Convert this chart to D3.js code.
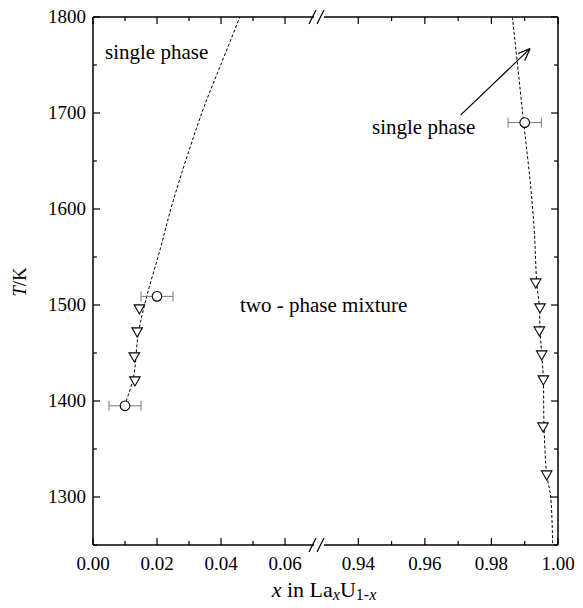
<!DOCTYPE html>
<html><head><meta charset="utf-8">
<script src="https://cdn.jsdelivr.net/npm/d3@7"></script>
<style>body{margin:0;background:#fff;}</style>
</head><body>
<svg id="c" width="583" height="608"></svg>
<script>
// ---- data ----
const leftMajorTicks = [0.00, 0.02, 0.04, 0.06];
const leftMinorTicks = [0.01, 0.03, 0.05];
const rightMajorTicks = [0.94, 0.96, 0.98, 1.00];
const rightMinorTicks = [0.95, 0.97, 0.99];
const yMajorTicks = [1300, 1400, 1500, 1600, 1700, 1800];
const yMinorTicks = [1250, 1350, 1450, 1550, 1650, 1750];

const circleX = [0.010, 0.020, 0.990];
const circleT = [1395, 1509, 1690];
const circleXerr = [0.005, 0.005, 0.005];

const triLeftX = [0.0145, 0.0138, 0.0129, 0.0131];
const triLeftT = [1497, 1473, 1447, 1422];
const triRightX = [0.9933, 0.9946, 0.9944, 0.9951, 0.9956, 0.9955, 0.9966];
const triRightT = [1524, 1498, 1474, 1449, 1423, 1374, 1324];

const leftLineX = [0.0098, 0.0126, 0.0142, 0.0168, 0.0209, 0.0251, 0.0340, 0.0399, 0.0459];
const leftLineT = [1395, 1424, 1471, 1509, 1557, 1609, 1700, 1750, 1800];
const rightLineX = [0.9863, 0.9897, 0.9918, 0.9929, 0.9936, 0.9944, 0.9946, 0.9951, 0.9956, 0.9958, 0.9966, 0.9978, 0.9984];
const rightLineT = [1800, 1690, 1623, 1576, 1524, 1498, 1474, 1449, 1423, 1374, 1324, 1300, 1250];

const arrowFrom = [0.9708, 1698];
const arrowTo = [0.9916, 1767];

// ---- scales ----
const FONT = "Liberation Serif";
const svg = d3.select("#c");
const L = 93, R = 558, T0 = 17, B = 545;
const xL = d3.scaleLinear().domain([0, 0.07]).range([L, 317]);
const xR = d3.scaleLinear().domain([0.93, 1.00]).range([325, R]);
const y = d3.scaleLinear().domain([1250, 1800]).range([B, T0]);
const xs = v => v < 0.5 ? xL(v) : xR(v);

const g = svg.append("g");
const line = (x1,y1,x2,y2,sw=1.3,col="#000") => g.append("line").attr("x1",x1).attr("y1",y1).attr("x2",x2).attr("y2",y2).attr("stroke",col).attr("stroke-width",sw);
const txt = (x,yy,size) => g.append("text").attr("x",x).attr("y",yy).attr("font-size",size).attr("font-family",FONT).attr("fill","#000");

// frame
line(L, T0, L, B, 1.5);
line(R, T0, R, B, 1.5);
line(L, B, 314, B, 1.5); line(324, B, R, B, 1.5);
line(L, T0, 314, T0, 1.5); line(324, T0, R, T0, 1.5);
// break marks
[B, T0].forEach(yy => {
  line(309, yy+7, 316, yy-7, 1.3);
  line(317, yy+7, 324, yy-7, 1.3);
});

const MAJ = 7, MIN = 4;
[[xL, leftMajorTicks, MAJ],[xL, leftMinorTicks, MIN],[xR, rightMajorTicks, MAJ],[xR, rightMinorTicks, MIN]].forEach(([sc, ticks, len]) => {
  ticks.forEach(t => {
    line(sc(t), B, sc(t), B-len, 1.2);
    line(sc(t), T0, sc(t), T0+len, 1.2);
  });
});
[[yMajorTicks, MAJ],[yMinorTicks, MIN]].forEach(([ticks, len]) => {
  ticks.forEach(t => {
    line(L, y(t), L+len, y(t), 1.2);
    line(R, y(t), R-len, y(t), 1.2);
  });
});

// tick labels
leftMajorTicks.forEach(t => txt(xL(t), B+25, 19).attr("text-anchor","middle").text(t.toFixed(2)));
rightMajorTicks.forEach(t => txt(xR(t), B+25, 19).attr("text-anchor","middle").text(t.toFixed(2)));
yMajorTicks.forEach(t => txt(L-7, y(t)+6, 19).attr("text-anchor","end").text(t));

// axis titles
const yt = g.append("text").attr("transform","translate(26,282) rotate(-90)").attr("text-anchor","middle").attr("font-size",19).attr("font-family",FONT);
yt.append("tspan").attr("font-style","italic").text("T");
yt.append("tspan").text("/K");
const xt = txt(324, 597, 22).attr("text-anchor","middle");
xt.append("tspan").attr("font-style","italic").text("x");
xt.append("tspan").text(" in La");
xt.append("tspan").attr("font-style","italic").attr("font-size",16).attr("dy",3).text("x");
xt.append("tspan").attr("dy",-3).text("U");
xt.append("tspan").attr("font-size",16).attr("dy",3).text("1-");
xt.append("tspan").attr("font-style","italic").attr("font-size",16).text("x");

// dashed lines
const lg = d3.line().x(d => xs(d[0])).y(d => y(d[1])).curve(d3.curveCatmullRom);
g.append("path").datum(leftLineX.map((v,i)=>[v,leftLineT[i]])).attr("d", lg).attr("fill","none").attr("stroke","#000").attr("stroke-width",1).attr("stroke-dasharray","3,2");
g.append("path").datum(rightLineX.map((v,i)=>[v,rightLineT[i]])).attr("d", lg).attr("fill","none").attr("stroke","#000").attr("stroke-width",1).attr("stroke-dasharray","3,2");

// error bars
circleX.forEach((cx,i) => {
  const x1 = xs(cx - circleXerr[i]), x2 = xs(cx + circleXerr[i]), yy = y(circleT[i]);
  line(x1, yy, x2, yy, 1, "#777");
  line(x1, yy-5, x1, yy+5, 1, "#777");
  line(x2, yy-5, x2, yy+5, 1, "#777");
});
circleX.forEach((cx,i) => g.append("circle").attr("cx", xs(cx)).attr("cy", y(circleT[i])).attr("r",4.8).attr("fill","#fff").attr("stroke","#000").attr("stroke-width",1.1));
const tri = d3.symbol().type(d3.symbolTriangle).size(48);
const triPts = triLeftX.map((v,i)=>[v,triLeftT[i]]).concat(triRightX.map((v,i)=>[v,triRightT[i]]));
triPts.forEach(p => g.append("path").attr("d", tri()).attr("transform",`translate(${xs(p[0])},${y(p[1])}) rotate(180)`).attr("fill","#fff").attr("stroke","#000").attr("stroke-width",1.1));

// arrow
const ax1 = xs(arrowFrom[0]), ay1 = y(arrowFrom[1]), ax2 = xs(arrowTo[0]), ay2 = y(arrowTo[1]);
line(ax1, ay1, ax2, ay2, 1.2);
const ang = Math.atan2(ay2-ay1, ax2-ax1), hl = 13, ha = 0.38;
line(ax2, ay2, ax2 - hl*Math.cos(ang-ha), ay2 - hl*Math.sin(ang-ha), 1.2);
line(ax2, ay2, ax2 - hl*Math.cos(ang+ha), ay2 - hl*Math.sin(ang+ha), 1.2);

// annotations
txt(105, 59, 21).text("single phase");
txt(372, 134, 21).text("single phase");
txt(240, 312, 21).text("two - phase mixture");
</script>
</body></html>
